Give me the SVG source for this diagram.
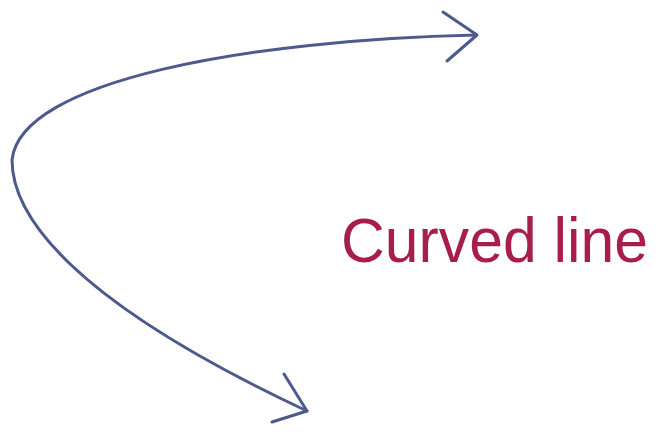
<svg xmlns="http://www.w3.org/2000/svg" width="664" height="432" viewBox="0 0 664 432">
  <style>
    .conn { fill: none; stroke: #4d5a8c; stroke-width: 3; stroke-linecap: round; stroke-linejoin: round; }
    .label { font-family: "Liberation Sans", Arial, sans-serif; font-size: 63px; fill: #a91d4a; }
  </style>
  <rect width="664" height="432" fill="#ffffff"/>
  <g id="connectors">
    <path class="conn" d="M 476 35 C 250 40, 20 80, 12 160 C 12 215, 70 300, 307 411"/>
    <path class="conn" d="M 443 12 L 477 35 L 447 61"/>
    <path class="conn" d="M 284 374 L 307 411 L 272 422"/>
  </g>
  <g id="label">
    <text class="label" x="341" y="262" textLength="307" lengthAdjust="spacingAndGlyphs">Curved line</text>
  </g>
</svg>
